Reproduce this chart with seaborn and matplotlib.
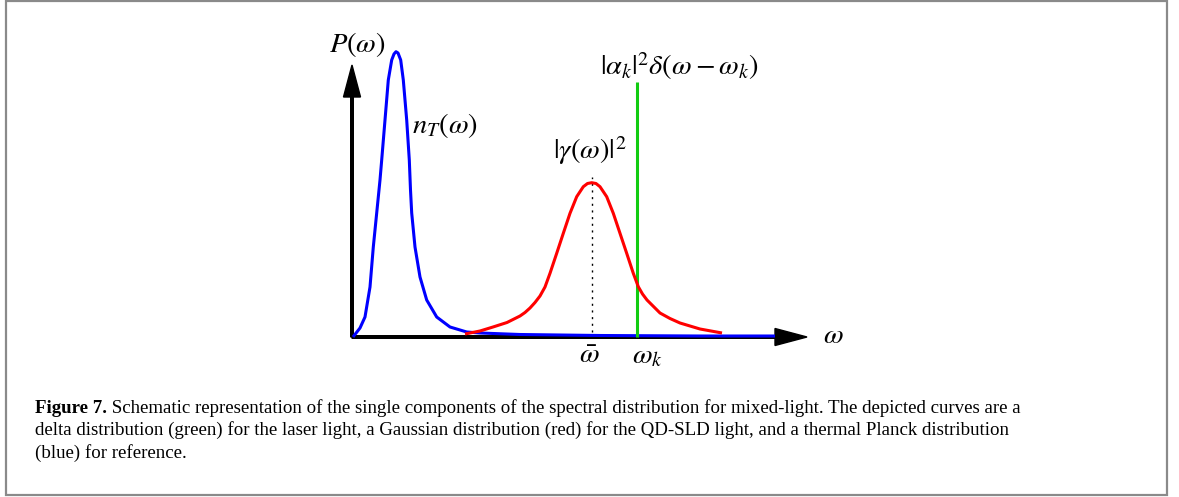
import numpy as np
import pandas as pd
import matplotlib
matplotlib.use("Agg")
import matplotlib.pyplot as plt
from matplotlib.patches import Rectangle
import seaborn as sns

# ---- data (schematic; units: omega, P) ----
blue_x = [0.01, 0.08, 0.13, 0.18, 0.213, 0.247, 0.263, 0.28, 0.297, 0.33, 0.363, 0.397,
          0.42, 0.44, 0.46, 0.487, 0.513, 0.547, 0.573, 0.585, 0.597, 0.63, 0.68, 0.747,
          0.847, 0.98, 1.147, 1.28, 1.68, 2.48, 3.48, 4.23]
blue_y = [0.00, 0.09, 0.20, 0.50, 0.90, 1.24, 1.40, 1.57, 1.77, 2.17, 2.57, 2.77,
          2.83, 2.853, 2.84, 2.77, 2.57, 2.17, 1.77, 1.47, 1.24, 0.90, 0.60, 0.37,
          0.20, 0.10, 0.05, 0.04, 0.025, 0.015, 0.01, 0.01]

red_x = [1.13, 1.28, 1.41, 1.55, 1.68, 1.73, 1.78, 1.83, 1.88, 1.93, 1.98, 2.047, 2.113, 2.18,
         2.247, 2.313, 2.355, 2.397, 2.44, 2.48, 2.547, 2.613, 2.68, 2.747, 2.813, 2.863,
         2.905, 2.95, 3.08, 3.18, 3.28, 3.48, 3.70]
red_y = [0.03, 0.06, 0.10, 0.145, 0.21, 0.245, 0.29, 0.345, 0.41, 0.50, 0.637, 0.837, 1.037, 1.237,
         1.403, 1.503, 1.535, 1.543, 1.535, 1.503, 1.403, 1.237, 1.037, 0.837, 0.637, 0.503,
         0.43, 0.37, 0.24, 0.185, 0.14, 0.08, 0.04]

green_x = [2.85, 2.85]
green_y = [0.0, 2.55]

mean_x = [2.40, 2.40]
mean_y = [0.05, 1.60]

x_axis_end = 4.55
y_axis_end = 2.72

caption_bold = "Figure 7."
caption_rest = (" Schematic representation of the single components of the spectral distribution for mixed-light. The depicted curves are a\n"
                "delta distribution (green) for the laser light, a Gaussian distribution (red) for the QD-SLD light, and a thermal Planck distribution\n"
                "(blue) for reference.")

# ---- style ----
sns.set_theme(style="white")
plt.rcParams["mathtext.fontset"] = "stix"
plt.rcParams["font.family"] = ["Liberation Serif", "DejaVu Serif"]
plt.rcParams["text.color"] = "black"

W, H = 1179, 497
fig = plt.figure(figsize=(W / 100, H / 100), dpi=100)
ax = fig.add_axes([0, 0, 1, 1])
ox, oy = 352, 337  # origin pixel position
ax.set_xlim(-ox / 100, (W - ox) / 100)
ax.set_ylim(-(H - oy) / 100, oy / 100)
ax.axis("off")

# axes arrows
ax.arrow(0, 0, x_axis_end, 0, width=0.026, head_width=0.17, head_length=0.32,
         length_includes_head=True, color="black", zorder=1)
ax.arrow(0, 0, 0, y_axis_end, width=0.026, head_width=0.17, head_length=0.32,
         length_includes_head=True, color="black", zorder=1)

df_blue = pd.DataFrame({"w": blue_x, "P": blue_y})
df_red = pd.DataFrame({"w": red_x, "P": red_y})
df_green = pd.DataFrame({"w": green_x, "P": green_y})

kw = dict(estimator=None, sort=False, solid_joinstyle="round", solid_capstyle="butt")
sns.lineplot(data=df_blue, x="w", y="P", ax=ax, color="#0000ff", lw=2.2, zorder=3, **kw)
sns.lineplot(data=df_green, x="w", y="P", ax=ax, color="#11cc11", lw=2.2, zorder=4, **kw)
sns.lineplot(data=df_red, x="w", y="P", ax=ax, color="#ff0000", lw=2.2, zorder=5, **kw)
ax.plot(mean_x, mean_y, color="black", lw=1.0, ls=(0, (1.5, 3.3)), zorder=2)

fs = 20.5
ax.text(0.05, 2.85, r"$P(\omega)$", fontsize=fs, ha="center", va="baseline")
ax.text(0.60, 2.04, r"$n_T(\omega)$", fontsize=fs, ha="left", va="baseline")
ax.text(2.48, 2.62, r"$|\alpha_k|^2\delta(\omega-\omega_k)$", fontsize=fs, ha="left", va="baseline")
ax.text(2.01, 1.78, r"$|\gamma(\omega)|^2$", fontsize=fs, ha="left", va="baseline")
ax.text(2.37, -0.26, r"$\bar{\omega}$", fontsize=fs, ha="center", va="baseline")
ax.text(2.80, -0.26, r"$\omega_k$", fontsize=fs, ha="left", va="baseline")
ax.text(4.71, -0.06, r"$\omega$", fontsize=fs, ha="left", va="baseline")

# border
fig.patches.append(Rectangle((6 / W, 1 - 495 / H), 1161 / W, 494 / H, transform=fig.transFigure,
                             fill=False, edgecolor="#8a8a8a", lw=1.6))

# caption
cfs = 13.6
t1 = fig.text(35 / W, 1 - 413 / H, caption_bold, fontsize=cfs, fontweight="bold",
              ha="left", va="baseline")
fig.canvas.draw()
r = fig.canvas.get_renderer()
bb = t1.get_window_extent(r)
lines = caption_rest.split("\n")
fig.text(bb.x1 / W, 1 - 413 / H, lines[0], fontsize=cfs, ha="left", va="baseline")
for i, ln in enumerate(lines[1:], start=1):
    fig.text(35 / W, 1 - (413 + 22.3 * i) / H, ln, fontsize=cfs, ha="left", va="baseline")

fig.savefig("out.png", dpi=100)
